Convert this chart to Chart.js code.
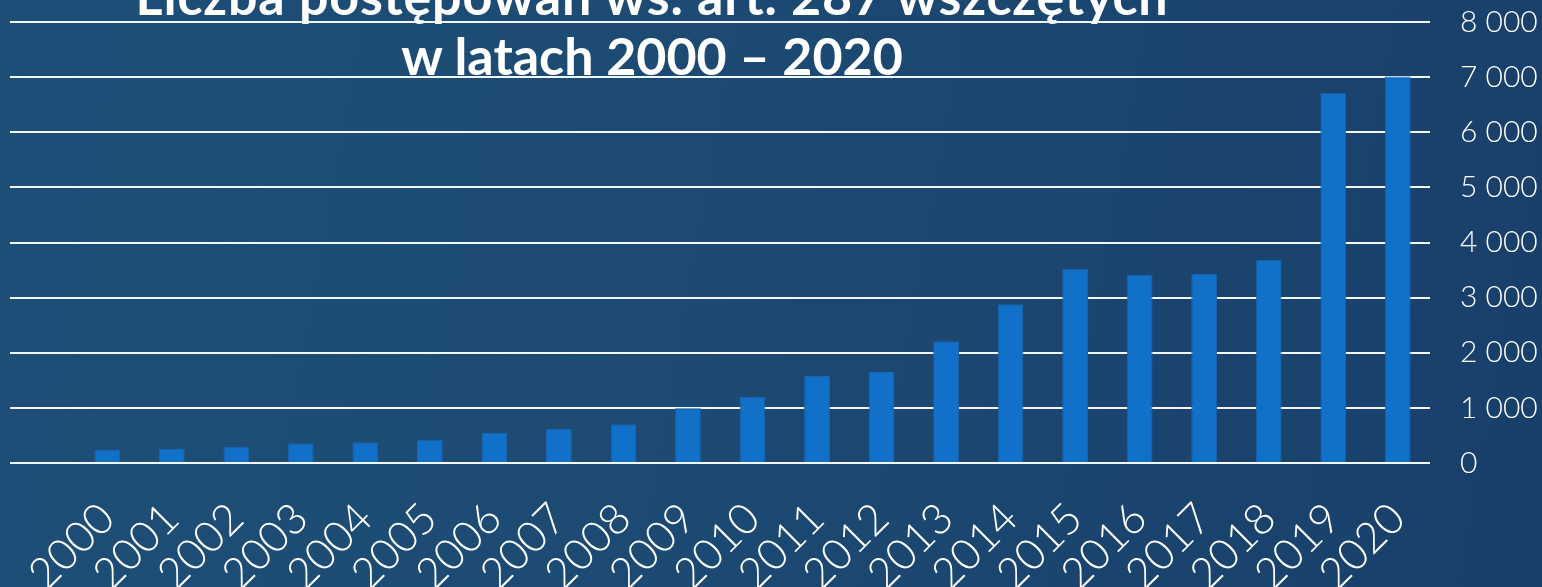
<!DOCTYPE html>
<html lang="pl">
<head>
<meta charset="utf-8">
<title>Liczba postępowań ws. art. 287</title>
<script src="https://cdn.jsdelivr.net/npm/chart.js@4.4.0/dist/chart.umd.min.js"></script>
<style>
  html, body { margin: 0; padding: 0; }
  body {
    width: 1542px; height: 587px; overflow: hidden; position: relative;
    background: linear-gradient(100deg, #1e4e77 0%, #1c4a73 45%, #183f6a 100%);
    font-family: "Lato", "Open Sans", sans-serif;
  }
  #chartBox { position: absolute; left: 0; top: 0; width: 1542px; height: 587px; }
  .title {
    position: absolute; left: 652px; transform: translateX(-50%);
    color: #fff; font-weight: 700; font-size: 52px; line-height: 1;
    white-space: nowrap; pointer-events: none;
  }
  #t1 { top: -31px; letter-spacing: 0.8px; }
  #t2 { top: 29px; }
</style>
</head>
<body>
<div id="chartBox"><canvas id="barChart" width="1542" height="587"></canvas></div>
<div class="title" id="t1">Liczba postępowań ws. art. 287 wszczętych</div>
<div class="title" id="t2">w latach 2000 – 2020</div>
<script>
// Years (categories)
const years = ["2000","2001","2002","2003","2004","2005","2006","2007","2008","2009","2010",
               "2011","2012","2013","2014","2015","2016","2017","2018","2019","2020"];

// Number of proceedings
const cases = [245, 262, 293, 360, 378, 427, 543, 616, 701, 992, 1198,
               1579, 1652, 2207, 2878, 3524, 3415, 3427, 3689, 6715, 7010];

// Y axis ticks
const yTicks = [0, 1000, 2000, 3000, 4000, 5000, 6000, 7000, 8000];

const fmt = v => String(v).replace(/\B(?=(\d{3})+(?!\d))/g, " ");

// gridlines in the original run further left than the plot area
const extendGrid = {
  id: "extendGrid",
  beforeDatasetsDraw(chart){
    const y = chart.scales.y;
    const ctx = chart.ctx;
    ctx.save();
    ctx.strokeStyle = "rgba(255,255,255,0.95)";
    ctx.lineWidth = 2;
    yTicks.forEach(t => {
      const py = Math.round(y.getPixelForValue(t));
      ctx.beginPath();
      ctx.moveTo(10, py);
      ctx.lineTo(chart.chartArea.left + 1, py);
      ctx.stroke();
    });
    ctx.restore();
  }
};

const ctx = document.getElementById("barChart").getContext("2d");
const chart = new Chart(ctx, {
  type: "bar",
  data: {
    labels: years,
    datasets: [{
      label: "Liczba postępowań",
      data: cases,
      backgroundColor: "#1170c8",
      borderColor: "#1a63ad",
      borderWidth: 1,
      barPercentage: 0.8,
      categoryPercentage: 0.5
    }]
  },
  options: {
    responsive: false,
    animation: false,
    layout: { padding: { left: 75, right: 5, top: 22, bottom: 0 } },
    plugins: {
      legend: { display: false },
      tooltip: { enabled: false },
      title: { display: false }
    },
    scales: {
      x: {
        grid: { display: false },
        border: { display: false },
        afterFit: s => { s.height = 124; s.paddingLeft = 0; s.paddingRight = 0; },
        ticks: {
          color: "#ffffff",
          font: { family: "Lato", size: 43, weight: 300 },
          minRotation: 45, maxRotation: 45,
          autoSkip: false,
          padding: 22
        }
      },
      y: {
        position: "right",
        min: 0, max: 8000,
        afterBuildTicks: axis => { axis.ticks = yTicks.map(v => ({ value: v })); },
        afterFit: s => { s.width = 107; s.paddingTop = 0; s.paddingBottom = 0; },
        grid: { color: "rgba(255,255,255,0.95)", lineWidth: 2, drawTicks: false },
        border: { display: false },
        ticks: {
          color: "#ffffff",
          font: { family: "Lato", size: 30, weight: 300 },
          padding: 30,
          callback: v => fmt(v)
        }
      }
    }
  },
  plugins: [extendGrid]
});
</script>
</body>
</html>
